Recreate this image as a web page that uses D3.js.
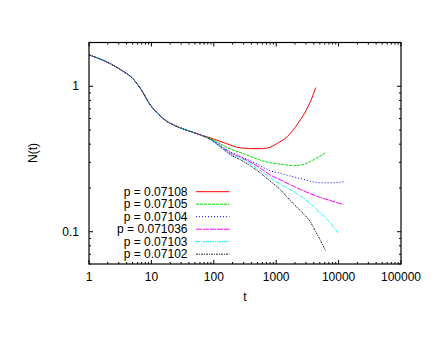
<html>
<head>
    <script src="https://cdn.jsdelivr.net/npm/d3@7"></script>
    <style>
        body { margin: 0; background: #fff; }
        text { font-family: "Liberation Sans", Arial, sans-serif; font-size: 12px; }
    </style>
</head>
<body>
    <script>
        // values (log-log)
        var labels = ["p = 0.07108", "p = 0.07105", "p = 0.07104", "p = 0.071036", "p = 0.07103", "p = 0.07102"];
        var colors = ["#ff0000", "#00e000", "#0000ff", "#ff00ff", "#00ffff", "#202020"];
        var dashes = ["none", "3,1", "1,2", "6,1", "4,1,1,1", "2,1,1,1"];

        // common early part, shared by every run
        var tCommon = [1, 2.1, 3.43, 4.97, 7.19, 9.22, 11.8, 17.1, 24.8, 40.5, 58.7];
        var nCommon = [1.645, 1.443, 1.277, 1.136, 0.919, 0.763, 0.67, 0.58, 0.533, 0.492, 0.466];

        var tRed = [88, 144, 268, 495, 720, 1040, 1500, 2000, 2450, 3000, 3560, 4300];
        var nRed = [0.442, 0.41, 0.377, 0.372, 0.376, 0.405, 0.45, 0.52, 0.59, 0.68, 0.79, 0.98];
        var tGreen = [88, 144, 184, 268, 385, 560, 810, 1300, 1900, 2460, 3200, 3950, 5000, 6200];
        var nGreen = [0.437, 0.39, 0.37, 0.35, 0.33, 0.31, 0.298, 0.29, 0.285, 0.287, 0.298, 0.312, 0.33, 0.35];
        var tBlue = [88, 144, 184, 268, 495, 810, 1040, 2460, 5100, 8000, 12600];
        var nBlue = [0.434, 0.379, 0.354, 0.33, 0.292, 0.262, 0.255, 0.232, 0.217, 0.217, 0.221];
        var tMagenta = [88, 144, 184, 268, 495, 810, 1200, 2460, 5100, 8000, 12000];
        var nMagenta = [0.433, 0.375, 0.349, 0.326, 0.283, 0.245, 0.226, 0.195, 0.172, 0.162, 0.154];
        var tCyan = [88, 144, 184, 268, 560, 1170, 1690, 2460, 4550, 7500, 10000];
        var nCyan = [0.432, 0.372, 0.344, 0.322, 0.262, 0.212, 0.194, 0.176, 0.141, 0.114, 0.097];
        var tBlack = [88, 144, 184, 268, 386, 560, 810, 1170, 1700, 2460, 3560, 4300, 5200, 6200];
        var nBlack = [0.43, 0.367, 0.339, 0.312, 0.284, 0.253, 0.222, 0.194, 0.163, 0.139, 0.116, 0.1, 0.086, 0.074];

        var xTicks = [1, 10, 100, 1000, 10000, 100000];
        var yTicks = [0.1, 1];

        var tails = [[tRed, nRed], [tGreen, nGreen], [tBlue, nBlue], [tMagenta, nMagenta], [tCyan, nCyan], [tBlack, nBlack]];

        var width = 436, height = 337;
        var pLeft = 89, pRight = 401, pTop = 42.5, pBottom = 264;

        var x = d3.scaleLog().domain([1, 100000]).range([pLeft, pRight]);
        var y = d3.scaleLog().domain([0.06, 2]).range([pBottom, pTop]);

        var svg = d3.select("body").append("svg").attr("width", width).attr("height", height);

        // minor + major ticks on all four sides
        var xMinor = [];
        for (var e = 0; e < 5; e++) for (var k = 2; k < 10; k++) xMinor.push(k * Math.pow(10, e));
        var yMinor = [0.06, 0.07, 0.08, 0.09, 0.2, 0.3, 0.4, 0.5, 0.6, 0.7, 0.8, 0.9, 2];

        var ticks = svg.append("g").attr("stroke", "#000").attr("stroke-width", 1);
        function tickX(v, len) {
            ticks.append("line").attr("x1", x(v)).attr("x2", x(v)).attr("y1", pBottom).attr("y2", pBottom - len);
            ticks.append("line").attr("x1", x(v)).attr("x2", x(v)).attr("y1", pTop).attr("y2", pTop + len);
        }
        function tickY(v, len) {
            ticks.append("line").attr("y1", y(v)).attr("y2", y(v)).attr("x1", pLeft).attr("x2", pLeft + len);
            ticks.append("line").attr("y1", y(v)).attr("y2", y(v)).attr("x1", pRight).attr("x2", pRight - len);
        }
        xTicks.forEach(function(v) { tickX(v, 4); });
        xMinor.forEach(function(v) { tickX(v, 2); });
        yTicks.forEach(function(v) { tickY(v, 4); });
        yMinor.forEach(function(v) { tickY(v, 2); });

        // tick labels
        svg.selectAll("text.xt").data(xTicks).enter().append("text")
            .attr("x", function(d) { return x(d); })
            .attr("y", 281)
            .attr("text-anchor", "middle")
            .text(function(d) { return d; });
        svg.selectAll("text.yt").data(yTicks).enter().append("text")
            .attr("x", 79)
            .attr("y", function(d) { return y(d) + 4; })
            .attr("text-anchor", "end")
            .text(function(d) { return d; });

        svg.append("text").attr("x", 245).attr("y", 301).attr("text-anchor", "middle").text("t");
        svg.append("text").attr("transform", "translate(37,153) rotate(-90)")
            .attr("text-anchor", "middle").text("N(t)");

        // the curves
        var line = d3.line()
            .x(function(d) { return x(d[0]); })
            .y(function(d) { return y(d[1]); })
            .curve(d3.curveMonotoneX);

        tails.forEach(function(s, i) {
            var pts = tCommon.map(function(t, j) { return [t, nCommon[j]]; })
                .concat(s[0].map(function(t, j) { return [t, s[1][j]]; }));
            svg.append("path").attr("d", line(pts))
                .attr("fill", "none")
                .attr("stroke", colors[i])
                .attr("stroke-width", 1)
                .attr("stroke-dasharray", dashes[i]);
        });

        // legend
        labels.forEach(function(l, i) {
            var ly = 191.7 + i * 12.5;
            svg.append("text").attr("x", 187.5).attr("y", ly + 4).attr("text-anchor", "end").text(l);
            svg.append("line").attr("x1", 196).attr("x2", 229.5).attr("y1", ly).attr("y2", ly)
                .attr("stroke", colors[i]).attr("stroke-width", 1).attr("stroke-dasharray", dashes[i]);
        });

        // frame
        svg.append("rect").attr("x", pLeft).attr("y", pTop).attr("width", pRight - pLeft).attr("height", pBottom - pTop)
            .attr("fill", "none").attr("stroke", "#000").attr("stroke-width", 1.2);
    </script>
</body>
</html>
